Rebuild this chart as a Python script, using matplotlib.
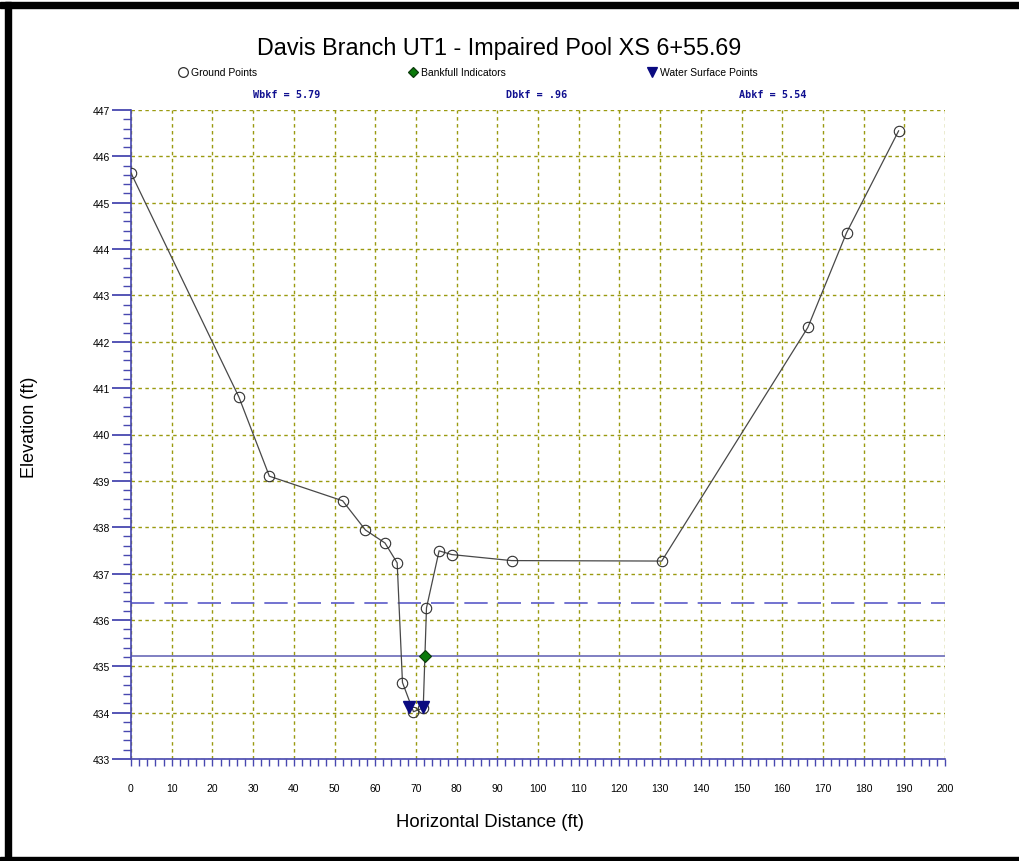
import numpy as np
import matplotlib
matplotlib.use('Agg')
import matplotlib.pyplot as plt
from matplotlib.lines import Line2D
from matplotlib.patches import Rectangle
from matplotlib.ticker import MultipleLocator

plt.rcParams['font.family'] = ['Liberation Sans', 'DejaVu Sans']

# ground survey points (station, elevation)
station = [0, 26.5, 34.0, 52.0, 57.6, 62.4, 65.4, 66.7, 69.4, 71.8, 72.6, 75.7, 78.8, 93.5, 130.4, 166.3, 175.8, 188.6]
elevation = [445.64, 440.81, 439.10, 438.57, 437.94, 437.66, 437.23, 434.65, 434.02, 434.10, 436.26, 437.49, 437.41, 437.28, 437.27, 442.31, 444.35, 446.55]

bankfull_x = [72.2]
bankfull_y = [435.22]
water_x = [68.3, 71.7]
water_y = [434.13, 434.13]

bankfull_elev = 435.22
floodprone_elev = 436.37

summary_labels = ['Wbkf = 5.79', 'Dbkf = .96', 'Abkf = 5.54']

fig = plt.figure(figsize=(10.19, 8.62), dpi=100)
W, H = 1019, 862
ax = fig.add_axes([131 / W, 1 - 760 / H, (945 - 131) / W, (760 - 111) / H])

grid_col = '#9a9a10'
axis_col = '#4848b0'

ax.axhline(floodprone_elev, color='#5a5ac8', lw=1.2, dashes=(14, 6), zorder=2)
ax.axhline(bankfull_elev, color='#6a6ab8', lw=1.2, zorder=2)

ax.plot(station, elevation, color='#484848', lw=0.9, marker='o', ms=7.5,
        mfc='none', mec='#303030', mew=0.8, zorder=3)
ax.plot(bankfull_x, bankfull_y, ls='none', marker='D', ms=6.5, mfc='#0a7a0a',
        mec='#0a3a0a', mew=0.8, zorder=5)
ax.plot(water_x, water_y, ls='none', marker='v', ms=9, mfc='#0a0a80',
        mec='#0a0a80', zorder=4)

ax.set_xlim(0, 200)
ax.set_ylim(433, 447)
ax.xaxis.set_major_locator(MultipleLocator(10))
ax.xaxis.set_minor_locator(MultipleLocator(2))
ax.yaxis.set_major_locator(MultipleLocator(1))
ax.yaxis.set_minor_locator(MultipleLocator(0.2))
ax.grid(True, which='major', color=grid_col, ls=(0, (2.5, 2.5)), lw=1.0)
ax.set_axisbelow(True)

for s in ['top', 'right']:
    ax.spines[s].set_visible(False)
for s in ['left', 'bottom']:
    ax.spines[s].set_color(axis_col)
    ax.spines[s].set_linewidth(1.2)

ax.tick_params(axis='x', which='both', direction='out', color=axis_col, length=5,
               width=1, labelsize=7.5, pad=12)
ax.tick_params(axis='y', which='major', direction='out', color=axis_col, length=14,
               width=1.3, labelsize=7.5, pad=1)
ax.tick_params(axis='y', which='minor', direction='out', color=axis_col, length=6, width=1)

fig.text(490 / W, 1 - 823 / H, 'Horizontal Distance (ft)', ha='center', va='center', fontsize=13.3)
fig.text(30 / W, 1 - 427 / H, 'Elevation (ft)', ha='center', va='center', fontsize=13,
         rotation=90)

fig.text(499 / W, 1 - 48 / H, 'Davis Branch UT1 - Impaired Pool XS 6+55.69',
         ha='center', va='center', fontsize=16.8)

legend_items = [
    (183, 'o', 'none', '#303030', 'Ground Points'),
    (413, 'D', '#0a7a0a', '#0a3a0a', 'Bankfull Indicators'),
    (652, 'v', '#0a0a80', '#0a0a80', 'Water Surface Points'),
]
for px, mk, fc, ec, lab in legend_items:
    fig.add_artist(Line2D([px / W], [1 - 73 / H], transform=fig.transFigure, marker=mk,
                          ms=7 if mk != 'D' else 5.5, mfc=fc, mec=ec, mew=0.9, ls='none'))
    fig.text((px + 8) / W, 1 - 73 / H, lab, ha='left', va='center', fontsize=7.5)

for cx, lab in zip([287, 537, 773], summary_labels):
    fig.text(cx / W, 1 - 95 / H, lab, ha='center', va='center', fontsize=7.3,
             family='DejaVu Sans Mono', weight='bold', color='#101090')

# black frame
fig.add_artist(Rectangle((0, 1 - 9 / H), 1, 6 / H, transform=fig.transFigure, color='black'))
fig.add_artist(Rectangle((5 / W, 0), 6 / W, 1 - 3 / H, transform=fig.transFigure, color='black'))
fig.add_artist(Rectangle((0, 0), 1, 4 / H, transform=fig.transFigure, color='black'))

fig.savefig('out.png', dpi=100)
